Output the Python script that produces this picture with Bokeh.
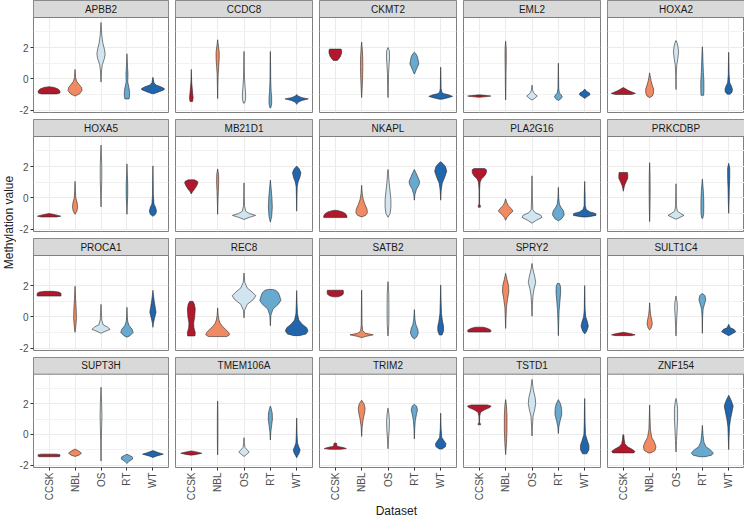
import numpy as np
from math import pi
from bokeh.plotting import figure
from bokeh.models import (GridBox, FixedTicker, Range1d, ColumnDataSource,
                          LinearAxis, BoxAnnotation, Label)
from bokeh.embed import file_html
from bokeh.resources import INLINE
from bokeh.core.properties import value

# ---------------- data ----------------
datasets = ["CCSK", "NBL", "OS", "RT", "WT"]
colors = ["#B2182B", "#EF8A62", "#D1E5F0", "#67A9CF", "#2166AC"]
genes = ["APBB2", "CCDC8", "CKMT2", "EML2", "HOXA2",
         "HOXA5", "MB21D1", "NKAPL", "PLA2G16", "PRKCDBP",
         "PROCA1", "REC8", "SATB2", "SPRY2", "SULT1C4",
         "SUPT3H", "TMEM106A", "TRIM2", "TSTD1", "ZNF154"]
y_ticks = [-2, 0, 2]
y_minor = [-1, 1, 3]
y_lo, y_hi = -2.15, 3.92

# violin density profiles: (methylation value, half width of the density)
APBB2 = {
    "CCSK": [(-0.96, 0.30), (-0.9, 0.42), (-0.78, 0.42), (-0.65, 0.35), (-0.55, 0.2), (-0.5, 0.0)],
    "NBL": [(-1.1, 0.0), (-0.95, 0.18), (-0.75, 0.27), (-0.55, 0.25), (-0.35, 0.15), (-0.15, 0.06), (0.1, 0.02), (0.6, 0.0)],
    "OS": [(-0.2, 0.0), (0.5, 0.02), (0.9, 0.05), (1.3, 0.13), (1.6, 0.16), (1.9, 0.13), (2.3, 0.07), (2.8, 0.03), (3.6, 0.0)],
    "RT": [(-1.28, 0.08), (-1.1, 0.1), (-0.8, 0.1), (-0.5, 0.07), (-0.2, 0.03), (0.3, 0.04), (0.8, 0.02), (1.6, 0.0)],
    "WT": [(-0.95, 0.03), (-0.85, 0.2), (-0.7, 0.43), (-0.62, 0.44), (-0.5, 0.3), (-0.4, 0.12), (-0.25, 0.04), (0.1, 0.0)],
}
CCDC8 = {
    "CCSK": [(-1.45, 0.05), (-1.2, 0.07), (-0.9, 0.05), (-0.5, 0.03), (-0.2, 0.015), (0.6, 0.0)],
    "NBL": [(-1.26, 0.0), (-0.5, 0.01), (0.3, 0.02), (0.8, 0.04), (1.3, 0.06), (1.7, 0.06), (2.1, 0.03), (2.5, 0.0)],
    "OS": [(-1.55, 0.02), (-1.3, 0.06), (-0.9, 0.06), (-0.5, 0.04), (0.0, 0.02), (0.8, 0.01), (1.75, 0.0)],
    "RT": [(-1.84, 0.02), (-1.6, 0.05), (-1.2, 0.05), (-0.8, 0.03), (-0.2, 0.015), (0.8, 0.01), (1.75, 0.0)],
    "WT": [(-1.63, 0.0), (-1.5, 0.05), (-1.38, 0.2), (-1.28, 0.44), (-1.2, 0.2), (-1.1, 0.05), (-1.0, 0.0)],
}
CKMT2 = {
    "CCSK": [(1.18, 0.08), (1.3, 0.14), (1.45, 0.2), (1.65, 0.24), (1.8, 0.24), (1.9, 0.22)],
    "NBL": [(-1.2, 0.0), (-0.6, 0.02), (0.0, 0.035), (0.8, 0.045), (1.4, 0.04), (2.0, 0.02), (2.35, 0.0)],
    "OS": [(-1.2, 0.0), (-0.5, 0.015), (0.3, 0.02), (0.9, 0.04), (1.4, 0.06), (1.8, 0.05), (2.0, 0.0)],
    "RT": [(0.3, 0.0), (0.45, 0.04), (0.7, 0.1), (0.95, 0.17), (1.15, 0.15), (1.4, 0.12), (1.6, 0.06), (1.7, 0.0)],
    "WT": [(-1.3, 0.05), (-1.22, 0.25), (-1.12, 0.45), (-1.02, 0.3), (-0.95, 0.12), (-0.85, 0.04), (-0.6, 0.015), (0.0, 0.01), (0.75, 0.0)],
}
EML2 = {
    "CCSK": [(-1.18, 0.0), (-1.13, 0.3), (-1.1, 0.44), (-1.07, 0.3), (-1.02, 0.0)],
    "NBL": [(-1.35, 0.0), (-0.5, 0.01), (0.5, 0.015), (1.5, 0.025), (2.0, 0.02), (2.4, 0.0)],
    "OS": [(-1.35, 0.0), (-1.25, 0.1), (-1.1, 0.2), (-0.95, 0.1), (-0.85, 0.05), (-0.7, 0.02), (-0.4, 0.0)],
    "RT": [(-1.38, 0.0), (-1.3, 0.08), (-1.15, 0.15), (-1.0, 0.1), (-0.9, 0.04), (-0.6, 0.015), (0.0, 0.01), (1.0, 0.0)],
    "WT": [(-1.25, 0.0), (-1.15, 0.08), (-1.02, 0.2), (-0.9, 0.18), (-0.8, 0.07), (-0.65, 0.0)],
}
HOXA2 = {
    "CCSK": [(-1.0, 0.3), (-0.93, 0.46), (-0.85, 0.35), (-0.75, 0.2), (-0.65, 0.1), (-0.55, 0.0)],
    "NBL": [(-1.2, 0.0), (-1.1, 0.1), (-0.9, 0.15), (-0.65, 0.15), (-0.4, 0.1), (-0.1, 0.05), (0.2, 0.02), (0.38, 0.0)],
    "OS": [(-0.68, 0.0), (0.3, 0.01), (0.9, 0.03), (1.3, 0.07), (1.75, 0.1), (2.1, 0.07), (2.35, 0.03), (2.45, 0.0)],
    "RT": [(-1.05, 0.05), (-0.7, 0.06), (-0.2, 0.06), (0.4, 0.04), (1.0, 0.025), (1.6, 0.015), (2.05, 0.0)],
    "WT": [(-0.98, 0.05), (-0.85, 0.13), (-0.65, 0.14), (-0.45, 0.1), (-0.25, 0.04), (0.3, 0.015), (1.0, 0.01), (1.7, 0.0)],
}
HOXA5 = {
    "CCSK": [(-1.22, 0.3), (-1.17, 0.45), (-1.12, 0.35), (-1.05, 0.15), (-1.0, 0.0)],
    "NBL": [(-1.05, 0.0), (-0.85, 0.07), (-0.6, 0.1), (-0.3, 0.08), (0.0, 0.03), (0.4, 0.015), (1.05, 0.0)],
    "OS": [(-0.58, 0.0), (0.3, 0.015), (1.2, 0.03), (2.0, 0.03), (2.8, 0.015), (3.37, 0.0)],
    "RT": [(-1.05, 0.0), (-0.4, 0.015), (0.2, 0.03), (0.8, 0.03), (1.5, 0.015), (2.17, 0.0)],
    "WT": [(-1.18, 0.0), (-1.05, 0.1), (-0.85, 0.14), (-0.6, 0.1), (-0.4, 0.04), (0.2, 0.015), (1.0, 0.01), (2.04, 0.0)],
}
MB21D1 = {
    "CCSK": [(0.25, 0.0), (0.4, 0.05), (0.55, 0.12), (0.75, 0.2), (0.95, 0.25), (1.05, 0.24), (1.15, 0.12)],
    "NBL": [(-1.05, 0.0), (-0.3, 0.01), (0.4, 0.025), (1.0, 0.04), (1.5, 0.035), (1.85, 0.0)],
    "OS": [(-1.38, 0.0), (-1.25, 0.2), (-1.12, 0.44), (-1.0, 0.2), (-0.85, 0.06), (-0.5, 0.02), (0.0, 0.01), (0.96, 0.0)],
    "RT": [(-1.55, 0.0), (-1.2, 0.05), (-0.6, 0.075), (0.0, 0.06), (0.5, 0.035), (1.13, 0.0)],
    "WT": [(-0.85, 0.0), (0.0, 0.01), (0.7, 0.02), (1.0, 0.05), (1.3, 0.12), (1.6, 0.16), (1.85, 0.1), (2.03, 0.0)],
}
NKAPL = {
    "CCSK": [(-1.26, 0.44), (-1.15, 0.44), (-1.0, 0.38), (-0.9, 0.28), (-0.82, 0.12), (-0.79, 0.0)],
    "NBL": [(-1.22, 0.0), (-1.12, 0.15), (-0.95, 0.22), (-0.7, 0.2), (-0.4, 0.12), (-0.1, 0.06), (0.3, 0.02), (0.8, 0.0)],
    "OS": [(-1.24, 0.0), (-1.0, 0.08), (-0.6, 0.11), (-0.1, 0.11), (0.4, 0.08), (1.0, 0.04), (1.5, 0.02), (1.81, 0.0)],
    "RT": [(-0.15, 0.0), (0.2, 0.02), (0.55, 0.08), (0.85, 0.18), (1.05, 0.2), (1.3, 0.14), (1.6, 0.06), (1.81, 0.0)],
    "WT": [(-0.15, 0.0), (0.5, 0.02), (0.95, 0.06), (1.3, 0.15), (1.7, 0.23), (2.0, 0.18), (2.2, 0.08), (2.31, 0.0)],
}
PLA2G16 = {
    "CCSK": [(-0.6, 0.04), (-0.5, 0.04), (-0.4, 0.01), (0.5, 0.01), (1.0, 0.03), (1.2, 0.08), (1.4, 0.2), (1.6, 0.27), (1.8, 0.27), (1.87, 0.2)],
    "NBL": [(-1.43, 0.0), (-1.25, 0.05), (-1.05, 0.15), (-0.85, 0.28), (-0.7, 0.22), (-0.5, 0.1), (-0.3, 0.04), (-0.06, 0.0)],
    "OS": [(-1.62, 0.0), (-1.45, 0.15), (-1.25, 0.38), (-1.1, 0.33), (-0.95, 0.12), (-0.75, 0.03), (0.0, 0.015), (0.8, 0.01), (1.41, 0.0)],
    "RT": [(-1.47, 0.0), (-1.35, 0.12), (-1.1, 0.22), (-0.85, 0.2), (-0.6, 0.1), (-0.4, 0.04), (0.0, 0.015), (0.67, 0.0)],
    "WT": [(-1.22, 0.1), (-1.12, 0.43), (-1.0, 0.42), (-0.9, 0.2), (-0.75, 0.06), (-0.5, 0.02), (0.2, 0.015), (1.05, 0.0)],
}
PRKCDBP = {
    "CCSK": [(0.42, 0.0), (0.6, 0.02), (0.8, 0.05), (1.0, 0.1), (1.25, 0.17), (1.45, 0.17), (1.62, 0.16)],
    "NBL": [(-1.52, 0.0), (-0.5, 0.015), (0.5, 0.02), (1.5, 0.015), (2.25, 0.0)],
    "OS": [(-1.37, 0.0), (-1.25, 0.15), (-1.12, 0.3), (-1.0, 0.18), (-0.85, 0.05), (-0.5, 0.015), (0.9, 0.0)],
    "RT": [(-1.3, 0.02), (-1.0, 0.05), (-0.5, 0.055), (0.0, 0.05), (0.5, 0.035), (1.2, 0.0)],
    "WT": [(-0.99, 0.0), (-0.2, 0.015), (0.6, 0.025), (1.3, 0.04), (1.9, 0.04), (2.21, 0.0)],
}
PROCA1 = {
    "CCSK": [(1.33, 0.46), (1.5, 0.46), (1.58, 0.38), (1.63, 0.15)],
    "NBL": [(-0.99, 0.0), (-0.6, 0.03), (-0.1, 0.055), (0.5, 0.045), (1.2, 0.02), (1.96, 0.0)],
    "OS": [(-1.05, 0.0), (-0.95, 0.12), (-0.8, 0.35), (-0.65, 0.25), (-0.5, 0.08), (-0.2, 0.03), (0.3, 0.015), (0.8, 0.0)],
    "RT": [(-1.3, 0.0), (-1.2, 0.12), (-1.0, 0.24), (-0.8, 0.2), (-0.55, 0.08), (-0.3, 0.03), (0.0, 0.015), (0.61, 0.0)],
    "WT": [(-0.67, 0.0), (-0.4, 0.02), (-0.1, 0.06), (0.3, 0.12), (0.6, 0.09), (1.0, 0.05), (1.4, 0.02), (1.7, 0.0)],
}
REC8 = {
    "CCSK": [(-1.22, 0.14), (-1.0, 0.15), (-0.7, 0.1), (-0.4, 0.09), (0.0, 0.13), (0.5, 0.15), (0.8, 0.12), (0.99, 0.06)],
    "NBL": [(-1.26, 0.35), (-1.15, 0.45), (-1.0, 0.42), (-0.8, 0.3), (-0.6, 0.18), (-0.4, 0.09), (-0.2, 0.05), (0.1, 0.02), (0.57, 0.0)],
    "OS": [(-0.06, 0.0), (0.4, 0.02), (0.8, 0.12), (1.1, 0.35), (1.35, 0.45), (1.6, 0.3), (1.85, 0.12), (2.2, 0.03), (2.8, 0.0)],
    "RT": [(-0.57, 0.0), (0.1, 0.02), (0.5, 0.1), (0.8, 0.3), (1.05, 0.4), (1.35, 0.35), (1.55, 0.3), (1.7, 0.2), (1.75, 0.08)],
    "WT": [(-1.2, 0.1), (-1.1, 0.35), (-0.9, 0.43), (-0.7, 0.38), (-0.45, 0.2), (-0.2, 0.08), (0.2, 0.03), (0.8, 0.015), (1.68, 0.0)],
}
SATB2 = {
    "CCSK": [(1.28, 0.1), (1.35, 0.22), (1.45, 0.3), (1.6, 0.31), (1.7, 0.3)],
    "NBL": [(-1.33, 0.0), (-1.25, 0.15), (-1.15, 0.44), (-1.05, 0.15), (-0.9, 0.04), (-0.5, 0.015), (0.5, 0.01), (1.7, 0.0)],
    "OS": [(-1.22, 0.0), (-0.5, 0.03), (0.5, 0.035), (1.5, 0.03), (2.25, 0.0)],
    "RT": [(-1.41, 0.0), (-1.3, 0.08), (-1.05, 0.15), (-0.8, 0.13), (-0.5, 0.06), (-0.2, 0.025), (0.46, 0.0)],
    "WT": [(-1.16, 0.05), (-0.9, 0.11), (-0.6, 0.11), (-0.3, 0.07), (0.2, 0.03), (1.0, 0.015), (2.04, 0.0)],
}
SPRY2 = {
    "CCSK": [(-0.97, 0.42), (-0.9, 0.45), (-0.82, 0.42), (-0.73, 0.3), (-0.66, 0.15)],
    "NBL": [(-0.74, 0.0), (0.0, 0.015), (0.6, 0.03), (1.1, 0.07), (1.6, 0.12), (2.0, 0.11), (2.4, 0.05), (2.78, 0.0)],
    "OS": [(0.04, 0.0), (0.8, 0.015), (1.4, 0.04), (1.8, 0.08), (2.2, 0.14), (2.6, 0.1), (3.0, 0.04), (3.41, 0.0)],
    "RT": [(-1.2, 0.0), (-0.3, 0.015), (0.4, 0.03), (1.0, 0.06), (1.6, 0.09), (1.95, 0.08), (2.13, 0.04)],
    "WT": [(-1.09, 0.0), (-0.9, 0.08), (-0.6, 0.14), (-0.3, 0.1), (0.0, 0.04), (0.5, 0.015), (1.2, 0.01), (2.0, 0.0)],
}
SULT1C4 = {
    "CCSK": [(-1.2, 0.3), (-1.15, 0.45), (-1.08, 0.3), (-1.02, 0.1), (-0.99, 0.0)],
    "NBL": [(-0.84, 0.0), (-0.7, 0.06), (-0.45, 0.1), (-0.2, 0.08), (0.1, 0.04), (0.5, 0.015), (0.9, 0.0)],
    "OS": [(-1.22, 0.0), (-0.6, 0.015), (0.0, 0.03), (0.5, 0.05), (0.9, 0.045), (1.33, 0.0)],
    "RT": [(-1.05, 0.0), (0.0, 0.01), (0.5, 0.03), (0.8, 0.08), (1.1, 0.13), (1.35, 0.1), (1.47, 0.03)],
    "WT": [(-1.2, 0.0), (-1.1, 0.12), (-0.95, 0.27), (-0.8, 0.2), (-0.7, 0.06), (-0.48, 0.0)],
}
SUPT3H = {
    "CCSK": [(-1.45, 0.38), (-1.42, 0.42), (-1.32, 0.42), (-1.28, 0.3)],
    "NBL": [(-1.43, 0.0), (-1.35, 0.15), (-1.22, 0.25), (-1.1, 0.16), (-0.95, 0.0)],
    "OS": [(-1.73, 0.0), (-0.5, 0.01), (0.5, 0.025), (1.2, 0.035), (2.0, 0.025), (3.07, 0.0)],
    "RT": [(-1.89, 0.0), (-1.75, 0.08), (-1.6, 0.22), (-1.45, 0.2), (-1.35, 0.08), (-1.29, 0.0)],
    "WT": [(-1.5, 0.0), (-1.4, 0.15), (-1.28, 0.4), (-1.18, 0.2), (-1.05, 0.0)],
}
TMEM106A = {
    "CCSK": [(-1.35, 0.0), (-1.3, 0.2), (-1.22, 0.4), (-1.14, 0.2), (-1.07, 0.0)],
    "NBL": [(-1.33, 0.0), (-0.5, 0.01), (0.5, 0.012), (1.5, 0.01), (2.18, 0.0)],
    "OS": [(-1.43, 0.0), (-1.3, 0.1), (-1.15, 0.2), (-1.0, 0.12), (-0.85, 0.04), (-0.6, 0.015), (-0.21, 0.0)],
    "RT": [(-0.36, 0.0), (0.2, 0.02), (0.6, 0.05), (1.0, 0.08), (1.4, 0.07), (1.7, 0.03), (1.85, 0.0)],
    "WT": [(-1.52, 0.0), (-1.35, 0.05), (-1.2, 0.1), (-1.0, 0.13), (-0.8, 0.08), (-0.55, 0.03), (0.0, 0.015), (1.07, 0.0)],
}
TRIM2 = {
    "CCSK": [(-0.97, 0.2), (-0.92, 0.42), (-0.85, 0.3), (-0.78, 0.1), (-0.72, 0.06), (-0.58, 0.05), (-0.55, 0.0)],
    "NBL": [(-0.13, 0.0), (0.5, 0.02), (1.0, 0.06), (1.4, 0.11), (1.7, 0.13), (2.0, 0.09), (2.23, 0.0)],
    "OS": [(-0.93, 0.0), (-0.3, 0.02), (0.3, 0.045), (0.9, 0.055), (1.4, 0.03), (1.71, 0.0)],
    "RT": [(-0.29, 0.0), (0.4, 0.015), (0.9, 0.035), (1.3, 0.08), (1.6, 0.12), (1.85, 0.08), (1.96, 0.0)],
    "WT": [(-0.95, 0.05), (-0.8, 0.18), (-0.6, 0.2), (-0.4, 0.12), (-0.2, 0.04), (0.4, 0.015), (1.39, 0.0)],
}
TSTD1 = {
    "CCSK": [(0.63, 0.05), (0.7, 0.04), (0.8, 0.01), (1.2, 0.015), (1.45, 0.05), (1.6, 0.2), (1.75, 0.4), (1.85, 0.45), (1.92, 0.3)],
    "NBL": [(-1.31, 0.0), (-0.6, 0.03), (0.3, 0.05), (1.2, 0.05), (1.9, 0.03), (2.27, 0.0)],
    "OS": [(-0.1, 0.0), (0.5, 0.015), (1.2, 0.04), (1.6, 0.1), (2.0, 0.14), (2.4, 0.12), (2.9, 0.05), (3.58, 0.0)],
    "RT": [(0.06, 0.0), (0.5, 0.02), (0.9, 0.07), (1.3, 0.13), (1.7, 0.12), (2.0, 0.08), (2.27, 0.0)],
    "WT": [(-1.26, 0.08), (-1.0, 0.16), (-0.7, 0.16), (-0.4, 0.1), (0.0, 0.03), (0.8, 0.015), (1.6, 0.01), (2.34, 0.0)],
}
ZNF154 = {
    "CCSK": [(-1.2, 0.4), (-1.1, 0.44), (-0.95, 0.32), (-0.8, 0.16), (-0.6, 0.06), (-0.3, 0.03), (-0.05, 0.02), (0.0, 0.0)],
    "NBL": [(-1.2, 0.05), (-1.05, 0.2), (-0.8, 0.24), (-0.5, 0.18), (-0.2, 0.08), (0.3, 0.03), (1.0, 0.015), (1.92, 0.0)],
    "OS": [(-1.14, 0.0), (-0.4, 0.02), (0.3, 0.04), (1.0, 0.06), (1.7, 0.06), (2.1, 0.03), (2.34, 0.0)],
    "RT": [(-1.45, 0.1), (-1.35, 0.35), (-1.2, 0.42), (-1.0, 0.3), (-0.8, 0.14), (-0.5, 0.06), (-0.1, 0.03), (0.59, 0.0)],
    "WT": [(-0.99, 0.0), (-0.2, 0.015), (0.5, 0.03), (1.0, 0.07), (1.5, 0.13), (1.85, 0.17), (2.2, 0.1), (2.55, 0.0)],
}
profiles = {
    "APBB2": APBB2, "CCDC8": CCDC8, "CKMT2": CKMT2, "EML2": EML2, "HOXA2": HOXA2,
    "HOXA5": HOXA5, "MB21D1": MB21D1, "NKAPL": NKAPL, "PLA2G16": PLA2G16, "PRKCDBP": PRKCDBP,
    "PROCA1": PROCA1, "REC8": REC8, "SATB2": SATB2, "SPRY2": SPRY2, "SULT1C4": SULT1C4,
    "SUPT3H": SUPT3H, "TMEM106A": TMEM106A, "TRIM2": TRIM2, "TSTD1": TSTD1, "ZNF154": ZNF154,
}

# ---------------- layout constants ----------------
FONT = "Liberation Sans"
FW = 137          # panel frame width
STRIP = 17        # strip height (px)
PH = 95           # panel plotting height (px)
FH = STRIP + PH   # frame height incl. strip
GAP = 7
AXW = 15          # left axis width
AXH = 34          # bottom axis height
YLW = 16
XLH = 14
ppu = PH / (y_hi - y_lo)
y_top = y_hi + STRIP / ppu
NCOL, NROW = 5, 4


def style_axis(ax):
    ax.axis_line_color = None
    ax.major_tick_line_color = "#333333"
    ax.major_tick_in = 0
    ax.major_tick_out = 3
    ax.minor_tick_line_color = None
    ax.major_label_standoff = 2
    ax.major_label_text_font = FONT
    ax.major_label_text_font_size = "10px"
    ax.major_label_text_color = "#4d4d4d"


def make_panel(gene, r, c):
    left = (c == 0)
    bottom = (r == NROW - 1)
    rb = 0 if c == NCOL - 1 else GAP
    bb = AXH if bottom else GAP
    lb = AXW if left else 0
    p = figure(width=lb + FW + rb, height=FH + bb,
               x_range=Range1d(0.4, 5.6), y_range=Range1d(y_lo, y_top),
               x_axis_location=None, y_axis_location=None,
               output_backend="svg", toolbar_location=None, tools="",
               min_border=0, min_border_left=lb, min_border_right=rb,
               min_border_bottom=bb, min_border_top=0,
               background_fill_color="white", border_fill_color="white")
    p.outline_line_color = "#7f7f7f"
    p.outline_line_width = 1
    p.xgrid.ticker = FixedTicker(ticks=list(range(1, len(datasets) + 1)))
    p.ygrid.ticker = FixedTicker(ticks=y_ticks, minor_ticks=y_minor)
    for g in (p.xgrid, p.ygrid):
        g.grid_line_color = "#ebebeb"
        g.grid_line_width = 1
    p.ygrid.minor_grid_line_color = "#f2f2f2"
    p.ygrid.minor_grid_line_width = 1

    xs_l, ys_l = [], []
    prof = profiles[gene]
    for i, ds in enumerate(datasets):
        knots = prof[ds]
        yy = np.array([k[0] for k in knots])
        ww = np.array([k[1] for k in knots])
        cx = i + 1
        xs_l.append(list(np.concatenate([cx + ww, (cx - ww)[::-1]])))
        ys_l.append(list(np.concatenate([yy, yy[::-1]])))
    src = ColumnDataSource(dict(xs=xs_l, ys=ys_l, fill=colors))
    p.patches("xs", "ys", source=src, fill_color="fill", line_color="#2b2b2b",
              line_width=0.6, line_join="round")

    # facet strip
    p.add_layout(BoxAnnotation(bottom=y_hi, fill_color="#d9d9d9", fill_alpha=1.0,
                               line_color="#7f7f7f", line_width=1, line_alpha=1.0))
    p.add_layout(Label(x=(len(datasets) + 1) / 2, y=(y_hi + y_top) / 2, text=gene,
                       text_align="center", text_baseline="middle",
                       text_font=FONT, text_font_size="10px", text_color="#1a1a1a"))

    if left:
        ax = LinearAxis(ticker=FixedTicker(ticks=y_ticks),
                        major_label_overrides={t: str(t) for t in y_ticks})
        style_axis(ax)
        p.add_layout(ax, "left")
    if bottom:
        ax = LinearAxis(ticker=FixedTicker(ticks=list(range(1, len(datasets) + 1))),
                        major_label_overrides={i + 1: d for i, d in enumerate(datasets)},
                        major_label_orientation=pi / 2)
        style_axis(ax)
        p.add_layout(ax, "below")
    return p


children = []
for k, gene in enumerate(genes):
    r, c = divmod(k, NCOL)
    children.append((make_panel(gene, r, c), r, c + 1))

# shared y label
ylab_h = NROW * (FH + GAP) + 4
yl = figure(width=YLW, height=ylab_h, x_range=Range1d(0, 1), y_range=Range1d(0, 1),
            x_axis_location=None, y_axis_location=None, output_backend="svg",
            toolbar_location=None, tools="", min_border=0)
yl.grid.visible = False
yl.outline_line_color = None
yl.text(x=[0.5], y=[0.5], text=["Methylation value"], angle=pi / 2,
        text_align="center", text_baseline="middle", text_font=value(FONT),
        text_font_size="12px", text_color="#1a1a1a")
children.append((yl, 0, 0, NROW, 1))

# shared x label
xl_w = AXW + NCOL * FW + (NCOL - 1) * GAP
xl = figure(width=xl_w, height=XLH, x_range=Range1d(0, xl_w), y_range=Range1d(0, 1),
            x_axis_location=None, y_axis_location=None, output_backend="svg",
            toolbar_location=None, tools="", min_border=0)
xl.grid.visible = False
xl.outline_line_color = None
xl.text(x=[AXW + (NCOL * FW + (NCOL - 1) * GAP) / 2], y=[0.5], text=["Dataset"],
        text_align="center", text_baseline="middle", text_font=value(FONT),
        text_font_size="12px", text_color="#1a1a1a")
children.append((xl, NROW, 1, 1, NCOL))

layout = GridBox(children=children, spacing=0)

open("out.html", "w").write(file_html(layout, INLINE))
